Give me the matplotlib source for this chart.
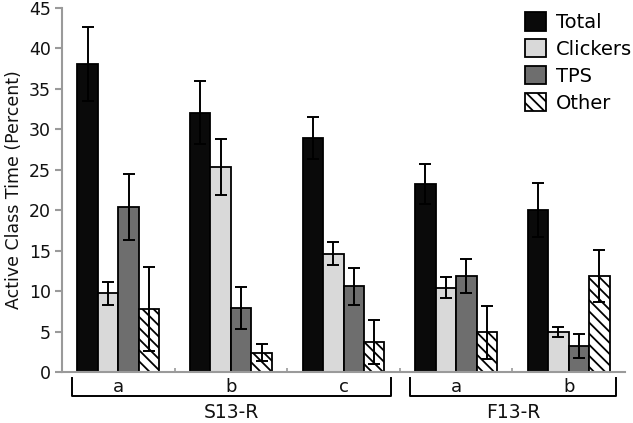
import matplotlib
matplotlib.use("Agg")
import matplotlib.pyplot as plt
import matplotlib.transforms as mtransforms
import numpy as np

# ---- data ----
sub_labels = ['a', 'b', 'c', 'a', 'b']
group_labels = ['S13-R', 'F13-R']
group_sizes = [3, 2]
series_names = ['Total', 'Clickers', 'TPS', 'Other']
total = [38.0, 32.0, 28.9, 23.2, 20.0]
total_err = [4.6, 3.9, 2.6, 2.5, 3.3]
clickers = [9.7, 25.3, 14.6, 10.4, 4.9]
clickers_err = [1.4, 3.5, 1.4, 1.3, 0.6]
tps = [20.4, 7.9, 10.6, 11.9, 3.2]
tps_err = [4.1, 2.6, 2.3, 2.1, 1.5]
other = [7.8, 2.4, 3.7, 4.9, 11.9]
other_err = [5.2, 1.1, 2.7, 3.3, 3.2]
y_ticks = [0, 5, 10, 15, 20, 25, 30, 35, 40, 45]

plt.rcParams['font.family'] = ['DejaVu Sans']
plt.rcParams['hatch.linewidth'] = 1.3

fig = plt.figure(figsize=(6.33, 4.23), dpi=100)
ax = fig.add_axes([62/633, 1-372/423, (625-62)/633, (372-7.5)/423])

values = [total, clickers, tps, other]
errors = [total_err, clickers_err, tps_err, other_err]
faces = ['#0a0a0a', '#d9d9d9', '#6e6e6e', 'white']
hatches = [None, None, None, '\\\\\\']

n = len(sub_labels)
centers = np.arange(n) + 0.5
w = 0.182
for i, (vals, errs, fc, h, name) in enumerate(zip(values, errors, faces, hatches, series_names)):
    x = centers + (i - 1.5) * w
    ax.bar(x, vals, width=w, color=fc, edgecolor='black', linewidth=1.3,
           hatch=h, label=name, zorder=2)
    ax.errorbar(x, vals, yerr=errs, fmt='none', ecolor='black',
                elinewidth=1.4, capsize=4, capthick=1.4, zorder=3)

ax.set_xlim(0, n)
ax.set_ylim(0, 45)
ax.set_yticks(y_ticks)
ax.set_xticks(np.arange(1, n))
ax.set_xticklabels([])
for s in ['top', 'right']:
    ax.spines[s].set_visible(False)
for s in ['left', 'bottom']:
    ax.spines[s].set_color('#9a9a9a')
    ax.spines[s].set_linewidth(1.5)
ax.tick_params(axis='y', colors='#9a9a9a', length=5, width=1.5, direction='out',
               labelsize=12.5, labelcolor='#111111', pad=3)
ax.tick_params(axis='x', colors='#9a9a9a', length=3, width=1.2, direction='in')

ax.set_ylabel('Active Class Time (Percent)', fontsize=12.5, color='#111111', labelpad=4)

# group/sub labels and brackets
trans = mtransforms.blended_transform_factory(ax.transData, ax.transAxes)
for c, lab in zip(centers, sub_labels):
    ax.text(c, -0.041, lab, transform=trans, ha='center', va='center',
            fontsize=13, color='#111111')

start = 0
y_top, y_bot = -0.0165, -0.0658
for glab, gsize in zip(group_labels, group_sizes):
    x0 = start + 0.09
    x1 = start + gsize - 0.08
    ax.plot([x0, x0, x1, x1], [y_top, y_bot, y_bot, y_top], transform=trans,
            color='black', linewidth=1.4, clip_on=False, solid_joinstyle='round')
    ax.text((x0 + x1) / 2, -0.112, glab, transform=trans, ha='center', va='center',
            fontsize=13.5, color='#111111')
    start += gsize

leg = ax.legend(loc='upper left', bbox_to_anchor=(521/633, 1-8/423),
                bbox_transform=fig.transFigure, frameon=False, fontsize=14,
                handlelength=1.1, handleheight=1.1, labelspacing=0.36,
                handletextpad=0.5, borderpad=0.2, borderaxespad=0)

fig.savefig('out.png', dpi=100)
